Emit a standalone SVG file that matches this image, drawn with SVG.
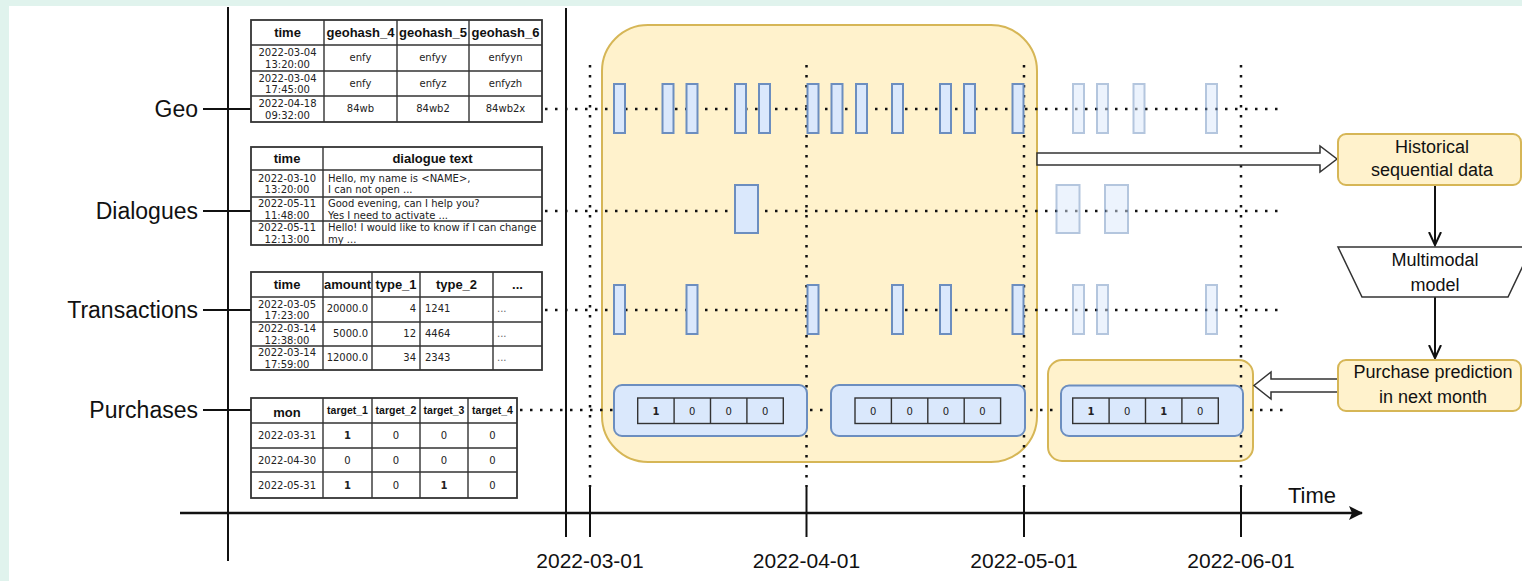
<svg xmlns="http://www.w3.org/2000/svg" width="1522" height="581" viewBox="0 0 1522 581">
  <style>
    .tb { fill: #ffffff; stroke: #333333; stroke-width: 1.8; }
    .tl { stroke: #333333; stroke-width: 1.4; fill: none; }
    .hd { font-family: "Liberation Sans", Arial, sans-serif; font-weight: bold; font-size: 13px; fill: #111; text-anchor: middle; }
    .hs { font-family: "Liberation Sans", Arial, sans-serif; font-weight: bold; font-size: 10.5px; fill: #111; text-anchor: middle; }
    .cl { font-family: "DejaVu Sans", Verdana, sans-serif; font-size: 10px; fill: #222; }
    .c { text-anchor: middle; }
    .r { text-anchor: end; }
    .b { font-weight: bold; }
    .lab { font-family: "Liberation Sans", Arial, sans-serif; font-size: 23px; fill: #111; text-anchor: end; }
    .date { font-family: "Liberation Sans", Arial, sans-serif; font-size: 21px; fill: #111; text-anchor: middle; }
    .box { font-family: "Liberation Sans", Arial, sans-serif; font-size: 18px; fill: #111; text-anchor: middle; }
    .axis { stroke: #111; stroke-width: 2; fill: none; }
    .dot { stroke: #111; stroke-width: 2.5; stroke-dasharray: 2.5 7.5; fill: none; }
    .bar { fill: #dae8fc; stroke: #6c8ebf; stroke-width: 2; }
    .fade { opacity: 0.5; }
    .yel { fill: #fff2cc; stroke: #d6b656; stroke-width: 2; }
    .blue { fill: #dae8fc; stroke: #6c8ebf; stroke-width: 2; }
    .cell { fill: #dae8fc; stroke: #333333; stroke-width: 1.4; }
    .hollow { fill: #ffffff; stroke: #333333; stroke-width: 1.5; }
    .flow { stroke: #111; stroke-width: 2; fill: none; }
  </style>
  <defs>
    <marker id="open" markerUnits="userSpaceOnUse" markerWidth="16" markerHeight="16" refX="13" refY="7" orient="auto">
      <path d="M0,1 L13,7 L0,13" fill="none" stroke="#111" stroke-width="2"/>
    </marker>
    <marker id="solid" markerUnits="userSpaceOnUse" markerWidth="16" markerHeight="16" refX="13" refY="7" orient="auto">
      <path d="M0,0 L14,7 L0,14 L3,7 Z" fill="#111"/>
    </marker>
  </defs>

  <!-- page -->
  <rect x="0" y="0" width="1522" height="581" fill="#e0f3ed"/>
  <rect x="9" y="6" width="1513" height="575" fill="#ffffff"/>

  <!-- time windows -->
  <g id="window-history">
    <rect class="yel" x="602" y="25" width="435" height="437" rx="46"/>
  </g>
  <g id="window-target">
    <rect class="yel" x="1048" y="360" width="205" height="101" rx="14"/>
  </g>

  <!-- axes, dotted guides and connectors -->
  <g id="connectors">
    <line class="axis" x1="228" y1="7" x2="228" y2="561"/>
    <line class="axis" x1="566" y1="8" x2="566" y2="537"/>
    <line class="axis" x1="203" y1="109" x2="251" y2="109"/>
    <line class="axis" x1="203" y1="211" x2="251" y2="211"/>
    <line class="axis" x1="203" y1="310" x2="251" y2="310"/>
    <line class="axis" x1="203" y1="410" x2="251" y2="410"/>
    <line x1="180" y1="513" x2="1362" y2="513" stroke="#111" stroke-width="2.5" marker-end="url(#solid)"/>

    <line class="axis" x1="590" y1="487" x2="590" y2="537"/>
    <line class="axis" x1="806.5" y1="487" x2="806.5" y2="537"/>
    <line class="axis" x1="1024" y1="487" x2="1024" y2="537"/>
    <line class="axis" x1="1241" y1="487" x2="1241" y2="537"/>

    <line class="dot" x1="590" y1="65" x2="590" y2="487"/>
    <line class="dot" x1="806.5" y1="65" x2="806.5" y2="487"/>
    <line class="dot" x1="1024" y1="65" x2="1024" y2="487"/>
    <line class="dot" x1="1241" y1="65" x2="1241" y2="487"/>

    <line class="dot" x1="545" y1="109" x2="1285" y2="109"/>
    <line class="dot" x1="545" y1="211" x2="1285" y2="211"/>
    <line class="dot" x1="545" y1="310" x2="1285" y2="310"/>
    <line class="dot" x1="520" y1="410" x2="1285" y2="410"/>

    <path class="hollow" d="M1037,153 H1320 V146 L1337,159 L1320,172 V165 H1037 Z"/>
    <path class="hollow" d="M1338,379 H1271 V372 L1254,385.5 L1271,399 V392 H1338 Z"/>
    <line class="flow" x1="1435" y1="185" x2="1435" y2="245" marker-end="url(#open)"/>
    <line class="flow" x1="1435" y1="297" x2="1435" y2="358" marker-end="url(#open)"/>
  </g>

  <!-- row labels -->
  <g id="labels">
    <text class="lab" x="198" y="117">Geo</text>
    <text class="lab" x="198" y="219">Dialogues</text>
    <text class="lab" x="198" y="318">Transactions</text>
    <text class="lab" x="198" y="418">Purchases</text>
    <text class="date" x="590" y="568">2022-03-01</text>
    <text class="date" x="806.5" y="568">2022-04-01</text>
    <text class="date" x="1024" y="568">2022-05-01</text>
    <text class="date" x="1241" y="568">2022-06-01</text>
    <text class="date" x="1312" y="503" style="font-size:22px">Time</text>
  </g>

  <!-- geo table -->
  <g id="table-geo">
    <rect class="tb" x="251" y="20" width="291" height="102"/>
    <path class="tl" d="M251,45 H542 M251,71 H542 M251,96 H542 M324,20 V122 M397,20 V122 M469,20 V122"/>
    <text class="hd" x="287.5" y="37">time</text>
    <text class="hd" x="360.5" y="37">geohash_4</text>
    <text class="hd" x="433" y="37">geohash_5</text>
    <text class="hd" x="505.5" y="37">geohash_6</text>
    <g class="cl c">
      <text x="287.5" y="56">2022-03-04</text><text x="287.5" y="67.5">13:20:00</text>
      <text x="360.5" y="61">enfy</text><text x="433" y="61">enfyy</text><text x="505.5" y="61">enfyyn</text>
      <text x="287.5" y="81.5">2022-03-04</text><text x="287.5" y="93">17:45:00</text>
      <text x="360.5" y="86.5">enfy</text><text x="433" y="86.5">enfyz</text><text x="505.5" y="86.5">enfyzh</text>
      <text x="287.5" y="107">2022-04-18</text><text x="287.5" y="118.5">09:32:00</text>
      <text x="360.5" y="112">84wb</text><text x="433" y="112">84wb2</text><text x="505.5" y="112">84wb2x</text>
    </g>
  </g>

  <!-- dialogue table -->
  <g id="table-dialogues">
    <rect class="tb" x="251" y="147" width="291" height="98"/>
    <path class="tl" d="M251,170 H542 M251,197 H542 M251,221 H542 M323,147 V245"/>
    <text class="hd" x="287" y="163">time</text>
    <text class="hd" x="432.5" y="163">dialogue text</text>
    <g class="cl">
      <text class="c" x="287" y="181.5">2022-03-10</text><text class="c" x="287" y="193">13:20:00</text>
      <text x="328" y="181.5">Hello, my name is &lt;NAME&gt;,</text><text x="328" y="193">I can not open ...</text>
      <text class="c" x="287" y="207">2022-05-11</text><text class="c" x="287" y="218.5">11:48:00</text>
      <text x="328" y="207">Good evening, can I help you?</text><text x="328" y="218.5">Yes I need to activate ...</text>
      <text class="c" x="287" y="231">2022-05-11</text><text class="c" x="287" y="242.5">12:13:00</text>
      <text x="328" y="231">Hello! I would like to know if I can change</text><text x="328" y="242.5">my ...</text>
    </g>
  </g>

  <!-- transactions table -->
  <g id="table-transactions">
    <rect class="tb" x="251" y="272" width="291" height="98"/>
    <path class="tl" d="M251,297 H542 M251,322 H542 M251,346 H542 M323,272 V370 M372,272 V370 M420,272 V370 M493,272 V370"/>
    <text class="hd" x="287" y="289">time</text>
    <text class="hd" x="347.5" y="289">amount</text>
    <text class="hd" x="396" y="289">type_1</text>
    <text class="hd" x="456.5" y="289">type_2</text>
    <text class="hd" x="517.5" y="289">...</text>
    <g class="cl">
      <text class="c" x="287" y="307.5">2022-03-05</text><text class="c" x="287" y="319">17:23:00</text>
      <text class="r" x="368" y="312">20000.0</text><text class="r" x="416" y="312">4</text>
      <text x="425" y="312">1241</text><text x="497" y="312" fill="#666">...</text>
      <text class="c" x="287" y="332">2022-03-14</text><text class="c" x="287" y="343.5">12:38:00</text>
      <text class="r" x="368" y="336.5">5000.0</text><text class="r" x="416" y="336.5">12</text>
      <text x="425" y="336.5">4464</text><text x="497" y="336.5" fill="#666">...</text>
      <text class="c" x="287" y="356">2022-03-14</text><text class="c" x="287" y="367.5">17:59:00</text>
      <text class="r" x="368" y="360.5">12000.0</text><text class="r" x="416" y="360.5">34</text>
      <text x="425" y="360.5">2343</text><text x="497" y="360.5" fill="#666">...</text>
    </g>
  </g>

  <!-- purchases table -->
  <g id="table-purchases">
    <rect class="tb" x="251" y="398" width="266" height="100"/>
    <path class="tl" d="M251,423 H517 M251,448 H517 M251,472 H517 M323,398 V498 M372,398 V498 M420,398 V498 M468,398 V498"/>
    <text class="hd" x="287" y="417">mon</text>
    <text class="hs" x="347.5" y="414">target_1</text>
    <text class="hs" x="396" y="414">target_2</text>
    <text class="hs" x="444" y="414">target_3</text>
    <text class="hs" x="492.5" y="414">target_4</text>
    <g class="cl c">
      <text x="287" y="439">2022-03-31</text><text class="b" x="347.5" y="439">1</text>
      <text x="396" y="439">0</text><text x="444" y="439">0</text><text x="492.5" y="439">0</text>
      <text x="287" y="463.5">2022-04-30</text><text x="347.5" y="463.5">0</text>
      <text x="396" y="463.5">0</text><text x="444" y="463.5">0</text><text x="492.5" y="463.5">0</text>
      <text x="287" y="488.5">2022-05-31</text><text class="b" x="347.5" y="488.5">1</text>
      <text x="396" y="488.5">0</text><text class="b" x="444" y="488.5">1</text><text x="492.5" y="488.5">0</text>
    </g>
  </g>

  <!-- geo events -->
  <g id="events-geo">
    <rect class="bar" x="614" y="84" width="11" height="49"/>
    <rect class="bar" x="662.5" y="84" width="11" height="49"/>
    <rect class="bar" x="686.5" y="84" width="11" height="49"/>
    <rect class="bar" x="735" y="84" width="11" height="49"/>
    <rect class="bar" x="759" y="84" width="11" height="49"/>
    <rect class="bar" x="807.5" y="84" width="11" height="49"/>
    <rect class="bar" x="831.5" y="84" width="11" height="49"/>
    <rect class="bar" x="856" y="84" width="11" height="49"/>
    <rect class="bar" x="892" y="84" width="11" height="49"/>
    <rect class="bar" x="940" y="84" width="11" height="49"/>
    <rect class="bar" x="964" y="84" width="11" height="49"/>
    <rect class="bar" x="1012.5" y="84" width="11" height="49"/>
    <g class="fade">
      <rect class="bar" x="1073" y="84" width="11" height="49"/>
      <rect class="bar" x="1097" y="84" width="11" height="49"/>
      <rect class="bar" x="1133.5" y="84" width="11" height="49"/>
      <rect class="bar" x="1206" y="84" width="11" height="49"/>
    </g>
  </g>

  <!-- dialogue events -->
  <g id="events-dialogues">
    <rect class="bar" x="735" y="185" width="23" height="48"/>
    <g class="fade">
      <rect class="bar" x="1056.5" y="185" width="23" height="48"/>
      <rect class="bar" x="1105" y="185" width="23" height="48"/>
    </g>
  </g>

  <!-- transaction events -->
  <g id="events-transactions">
    <rect class="bar" x="614" y="285" width="11" height="49"/>
    <rect class="bar" x="686.5" y="285" width="11" height="49"/>
    <rect class="bar" x="807.5" y="285" width="11" height="49"/>
    <rect class="bar" x="892" y="285" width="11" height="49"/>
    <rect class="bar" x="940" y="285" width="11" height="49"/>
    <rect class="bar" x="1012.5" y="285" width="11" height="49"/>
    <g class="fade">
      <rect class="bar" x="1073" y="285" width="11" height="49"/>
      <rect class="bar" x="1097" y="285" width="11" height="49"/>
      <rect class="bar" x="1206" y="285" width="11" height="49"/>
    </g>
  </g>

  <!-- monthly purchase vectors -->
  <g id="purchase-march">
    <rect class="blue" x="614" y="385" width="193" height="51" rx="8"/>
    <rect class="cell" x="637.7" y="398" width="145.6" height="25.5"/>
    <path class="tl" d="M674.1,398 V423.5 M710.5,398 V423.5 M746.9,398 V423.5"/>
    <g class="cl c">
      <text class="b" x="655.9" y="414.5">1</text><text x="692.3" y="414.5">0</text>
      <text x="728.7" y="414.5">0</text><text x="765.1" y="414.5">0</text>
    </g>
  </g>
  <g id="purchase-april">
    <rect class="blue" x="831" y="385" width="194" height="51" rx="8"/>
    <rect class="cell" x="855" y="398" width="145.6" height="25.5"/>
    <path class="tl" d="M891.4,398 V423.5 M927.8,398 V423.5 M964.2,398 V423.5"/>
    <g class="cl c">
      <text x="873.2" y="414.5">0</text><text x="909.6" y="414.5">0</text>
      <text x="946" y="414.5">0</text><text x="982.4" y="414.5">0</text>
    </g>
  </g>
  <g id="purchase-may">
    <rect class="blue" x="1061" y="385.5" width="182" height="50.5" rx="8"/>
    <rect class="cell" x="1072.7" y="398" width="145.6" height="25.5"/>
    <path class="tl" d="M1109.1,398 V423.5 M1145.5,398 V423.5 M1181.9,398 V423.5"/>
    <g class="cl c">
      <text class="b" x="1090.9" y="414.5">1</text><text x="1127.3" y="414.5">0</text>
      <text class="b" x="1163.7" y="414.5">1</text><text x="1200.1" y="414.5">0</text>
    </g>
  </g>

  <!-- pipeline -->
  <g id="historical-data">
    <rect class="yel" x="1338" y="134" width="183" height="51" rx="8"/>
    <text class="box" x="1432" y="152.5">Historical</text>
    <text class="box" x="1432" y="176">sequential data</text>
  </g>
  <g id="multimodal-model">
    <path d="M1338,247 L1532,247 L1508,297 L1362,297 Z" fill="#ffffff" stroke="#333333" stroke-width="1.5"/>
    <text class="box" x="1435" y="266">Multimodal</text>
    <text class="box" x="1435" y="291">model</text>
  </g>
  <g id="purchase-prediction">
    <rect class="yel" x="1338" y="360" width="183" height="51" rx="8"/>
    <text class="box" x="1433" y="378">Purchase prediction</text>
    <text class="box" x="1433" y="402.5">in next month</text>
  </g>
</svg>
